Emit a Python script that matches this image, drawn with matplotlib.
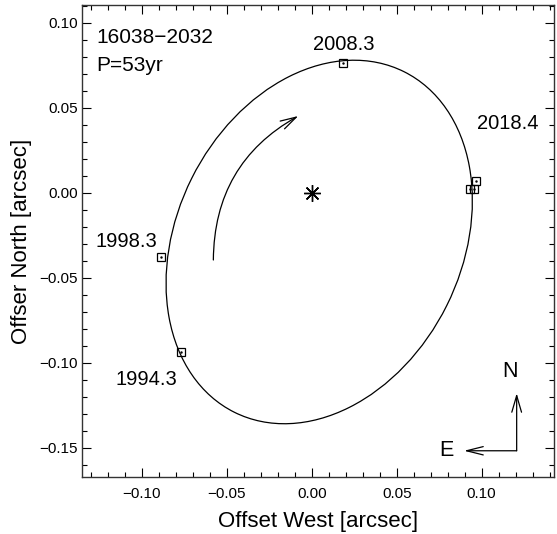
import matplotlib
matplotlib.use("Agg")
import matplotlib.pyplot as plt
from matplotlib.patches import Ellipse, FancyArrowPatch
from matplotlib.ticker import MultipleLocator, FuncFormatter

plt.rcParams["font.family"] = ["Liberation Sans", "DejaVu Sans"]

# observed positions (arcsec) and their epochs
obs_x = [-0.0769, -0.0886, 0.0186, 0.0929, 0.0956, 0.0964]
obs_y = [-0.0935, -0.0376, 0.0761, 0.0021, 0.0021, 0.0070]

# epoch labels: text, x, y, horizontal alignment
epoch_text = ["1994.3", "1998.3", "2008.3", "2018.4"]
epoch_x = [-0.1153, -0.0910, 0.0186, 0.0971]
epoch_y = [-0.1131, -0.0318, 0.0839, 0.0373]
epoch_ha = ["left", "right", "center", "left"]

# apparent orbit ellipse
orbit_center = (0.0044, -0.0290)
orbit_major = 0.2238
orbit_minor = 0.1677
orbit_angle = 63.5

star_name = "16038\u22122032"
period_text = "P=53yr"

XLIM = (-0.1350, 0.1424)
YLIM = (-0.1674, 0.1104)

fig = plt.figure(figsize=(5.57, 5.34), dpi=100)
ax = fig.add_axes([0.1478, 0.1062, 0.8463, 0.8845])

ax.add_patch(Ellipse(orbit_center, orbit_major, orbit_minor, angle=orbit_angle,
                     fill=False, edgecolor="black", linewidth=0.9))

ax.plot(obs_x, obs_y, linestyle="none", marker="s", markersize=5.9,
        markerfacecolor="none", markeredgecolor="black", markeredgewidth=0.9)
ax.plot(obs_x, obs_y, linestyle="none", marker=".", markersize=1.5, color="black")

# primary star
ax.plot([0], [0], linestyle="none", marker=(8, 2, 0), markersize=12,
        markeredgewidth=1.0, color="black")

for txt, x, y, ha in zip(epoch_text, epoch_x, epoch_y, epoch_ha):
    ax.text(x, y, txt, ha=ha, va="baseline", fontsize=14.5)

ax.text(-0.1266, 0.0881, star_name, ha="left", va="baseline", fontsize=15)
ax.text(-0.1266, 0.0718, period_text, ha="left", va="baseline", fontsize=15)

# direction of motion
ax.add_patch(FancyArrowPatch((-0.0579, -0.0396), (-0.0079, 0.0451),
                             connectionstyle="arc3,rad=-0.29",
                             arrowstyle="->,head_length=1.15,head_width=0.32",
                             mutation_scale=10, shrinkA=0, shrinkB=0,
                             linewidth=0.9, color="black"))

# compass
corner = (0.1206, -0.1518)
ax.add_patch(FancyArrowPatch(corner, (0.1206, -0.1180),
                             arrowstyle="->,head_length=1.2,head_width=0.35",
                             mutation_scale=10, shrinkA=0, shrinkB=0,
                             linewidth=0.9, color="black"))
ax.add_patch(FancyArrowPatch(corner, (0.0896, -0.1518),
                             arrowstyle="->,head_length=1.2,head_width=0.3",
                             mutation_scale=10, shrinkA=0, shrinkB=0,
                             linewidth=0.9, color="black"))
ax.text(0.1166, -0.1053, "N", ha="center", va="center", fontsize=15.5)
ax.text(0.0794, -0.1514, "E", ha="center", va="center", fontsize=15.5)

ax.set_xlim(*XLIM)
ax.set_ylim(*YLIM)

fmt = FuncFormatter(lambda v, pos: ("%.2f" % (0.0 if abs(v) < 1e-9 else v)).replace("-", "\u2212"))
for axis in (ax.xaxis, ax.yaxis):
    axis.set_major_locator(MultipleLocator(0.05))
    axis.set_minor_locator(MultipleLocator(0.01))
    axis.set_major_formatter(fmt)

ax.tick_params(which="both", direction="in", top=True, right=True,
               width=0.8, colors="black", labelsize=11)
ax.tick_params(which="major", length=6.8)
ax.tick_params(which="minor", length=3.6)
ax.tick_params(axis="x", pad=7)
ax.tick_params(axis="y", pad=3)
for sp in ax.spines.values():
    sp.set_linewidth(1.0)
    sp.set_color("#333333")

ax.set_xlabel("Offset West [arcsec]", fontsize=16)
ax.set_ylabel("Offser North [arcsec]", fontsize=16)
ax.xaxis.set_label_coords(0.5, -0.072)
ax.yaxis.set_label_coords(-0.107, 0.5)

fig.savefig("out.png", dpi=100)
